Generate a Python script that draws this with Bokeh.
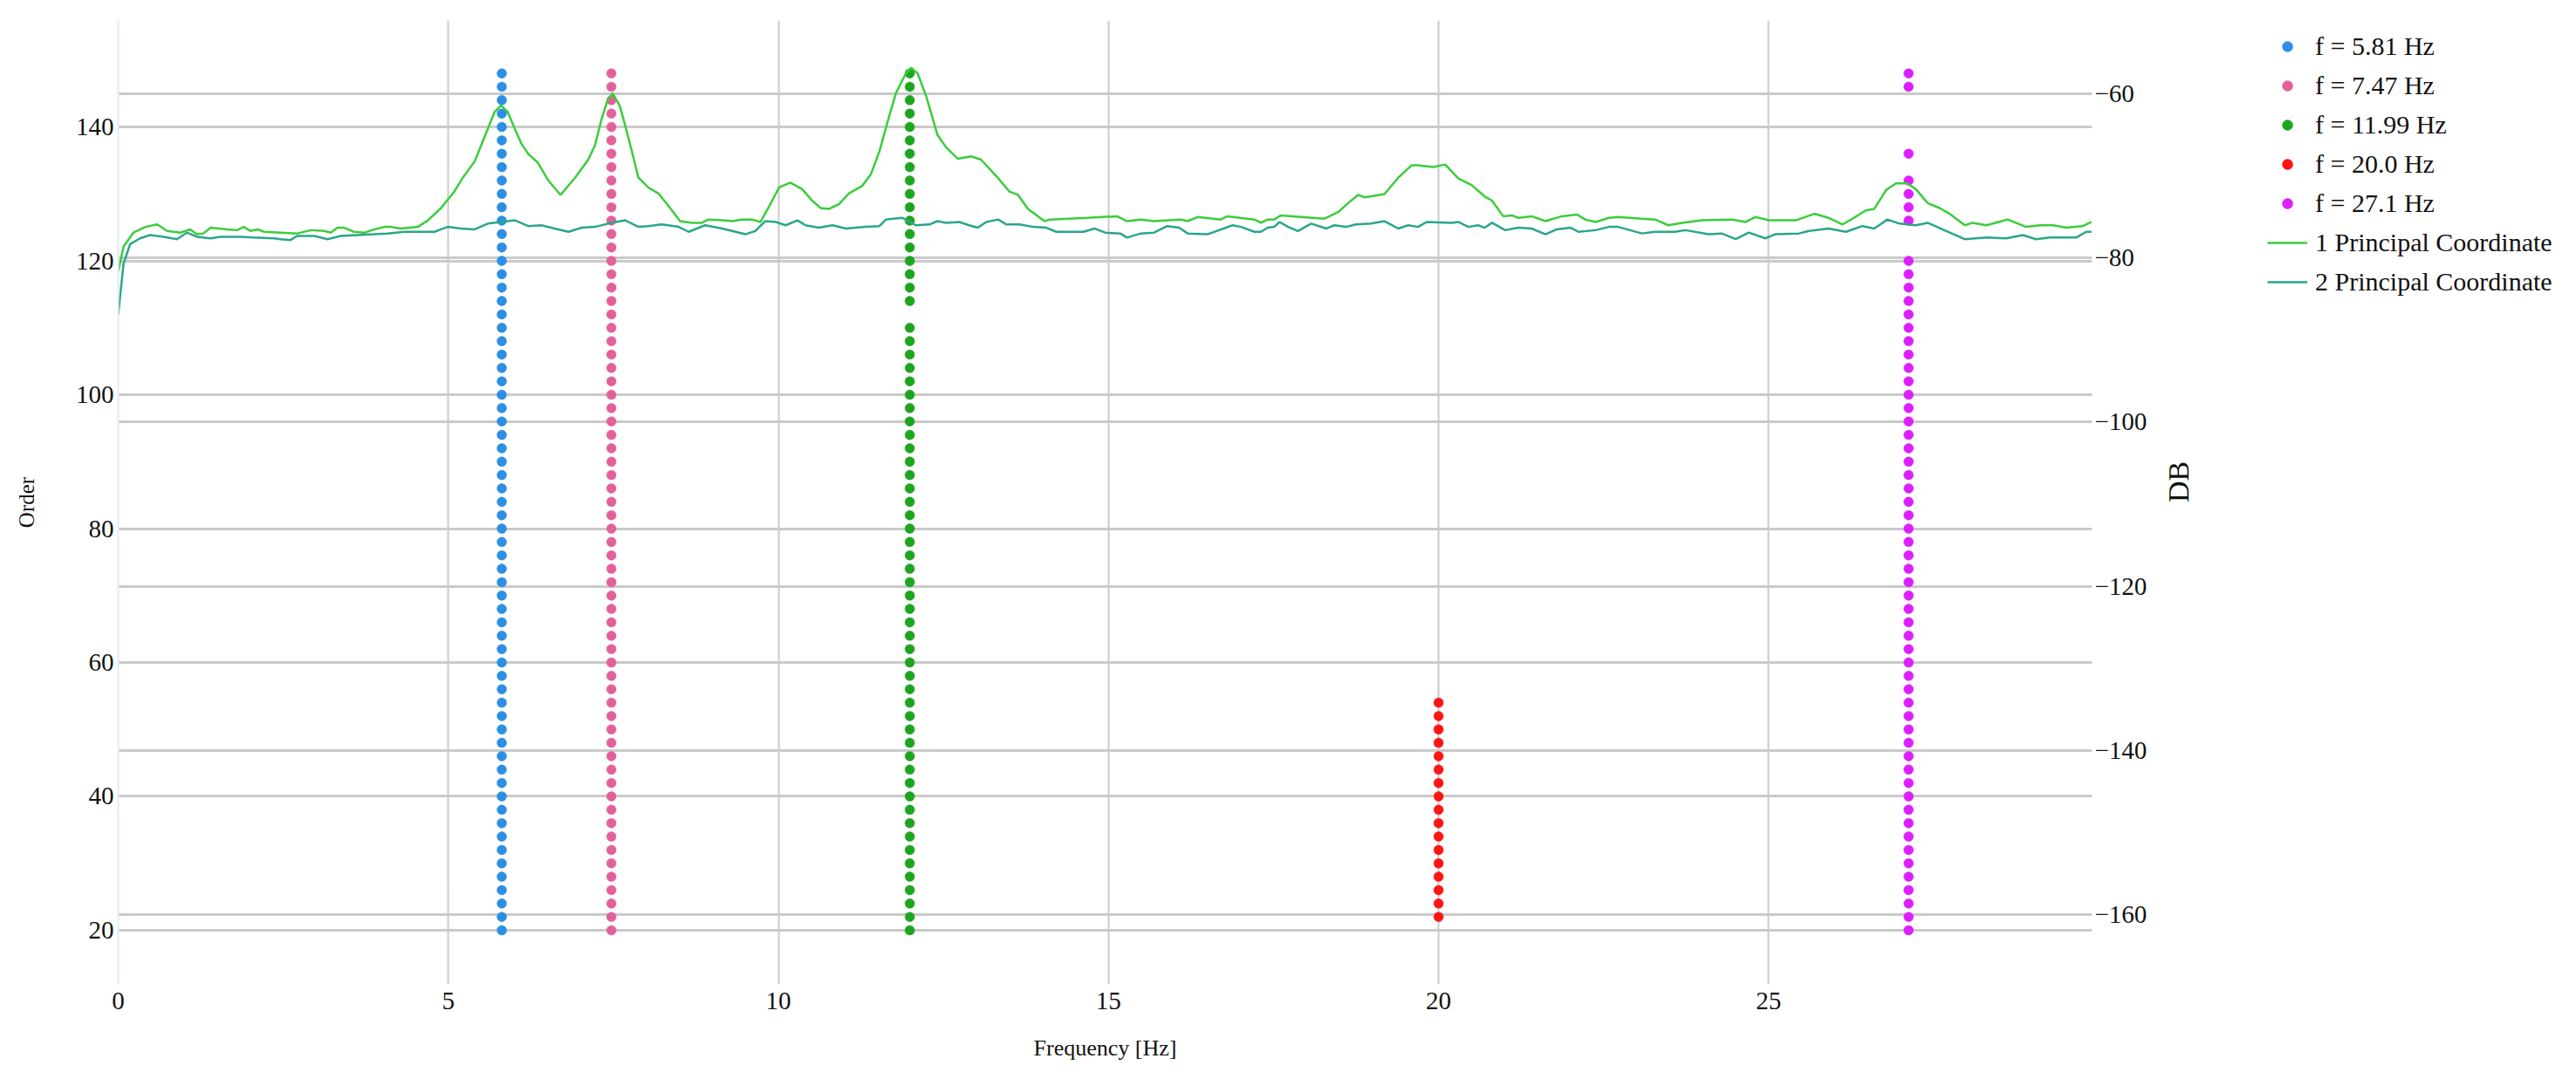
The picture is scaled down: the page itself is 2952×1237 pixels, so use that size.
import math
from bokeh.plotting import figure
from bokeh.layouts import row
from bokeh.models import (Range1d, LinearAxis, FixedTicker, Grid, Legend, LegendItem,
                          CustomJSTickFormatter)
from bokeh.embed import file_html
from bokeh.resources import INLINE

# ---------------- data ----------------
point_labels = ["f = 5.81 Hz", "f = 7.47 Hz", "f = 11.99 Hz", "f = 20.0 Hz", "f = 27.1 Hz"]
point_freqs = [5.81, 7.47, 11.99, 20.0, 27.12]
point_colors = ["#2c8fe3", "#e2619b", "#1ea51e", "#ff1414", "#dd1ffe"]

orders_581 = [20, 22, 24, 26, 28, 30, 32, 34, 36, 38, 40, 42, 44, 46, 48, 50, 52, 54, 56, 58,
              60, 62, 64, 66, 68, 70, 72, 74, 76, 78, 80, 82, 84, 86, 88, 90, 92, 94, 96, 98,
              100, 102, 104, 106, 108, 110, 112, 114, 116, 118, 120, 122, 124, 126, 128, 130,
              132, 134, 136, 138, 140, 142, 144, 146, 148]
orders_747 = [20, 22, 24, 26, 28, 30, 32, 34, 36, 38, 40, 42, 44, 46, 48, 50, 52, 54, 56, 58,
              60, 62, 64, 66, 68, 70, 72, 74, 76, 78, 80, 82, 84, 86, 88, 90, 92, 94, 96, 98,
              100, 102, 104, 106, 108, 110, 112, 114, 116, 118, 120, 122, 124, 126, 128, 130,
              132, 134, 136, 138, 140, 142, 144, 146, 148]
orders_1199 = [20, 22, 24, 26, 28, 30, 32, 34, 36, 38, 40, 42, 44, 46, 48, 50, 52, 54, 56, 58,
               60, 62, 64, 66, 68, 70, 72, 74, 76, 78, 80, 82, 84, 86, 88, 90, 92, 94, 96, 98,
               100, 102, 104, 106, 108, 110, 114, 116, 118, 120, 122, 124, 126, 128, 130,
               132, 134, 136, 138, 140, 142, 144, 146, 148]
orders_2000 = [22, 24, 26, 28, 30, 32, 34, 36, 38, 40, 42, 44, 46, 48, 50, 52, 54]
orders_2710 = [20, 22, 24, 26, 28, 30, 32, 34, 36, 38, 40, 42, 44, 46, 48, 50, 52, 54, 56, 58,
               60, 62, 64, 66, 68, 70, 72, 74, 76, 78, 80, 82, 84, 86, 88, 90, 92, 94, 96, 98,
               100, 102, 104, 106, 108, 110, 112, 114, 116, 118, 120, 126, 128, 130, 132,
               136, 146, 148]
point_orders = [orders_581, orders_747, orders_1199, orders_2000, orders_2710]

pc1_freq = [0.00, 0.08, 0.23, 0.41, 0.59, 0.74, 0.94, 1.09, 1.19, 1.29, 1.40, 1.65, 1.80, 1.90,
            2.00, 2.11, 2.21, 2.46, 2.71, 2.92, 3.12, 3.22, 3.32, 3.42, 3.57, 3.73, 3.88, 4.03,
            4.13, 4.28, 4.54, 4.69, 4.89, 5.09, 5.22, 5.40, 5.55, 5.70, 5.80, 5.90, 6.01, 6.11,
            6.21, 6.36, 6.51, 6.70, 6.92, 7.12, 7.22, 7.32, 7.41, 7.49, 7.60, 7.73, 7.88, 8.03,
            8.18, 8.34, 8.51, 8.69, 8.84, 8.94, 9.15, 9.30, 9.45, 9.60, 9.73, 9.86, 10.01, 10.18,
            10.36, 10.51, 10.64, 10.77, 10.92, 11.07, 11.27, 11.40, 11.53, 11.65, 11.78, 11.93,
            12.01, 12.11, 12.24, 12.41, 12.54, 12.72, 12.92, 13.07, 13.30, 13.50, 13.63, 13.78,
            14.03, 14.11, 14.67, 15.13, 15.28, 15.49, 15.69, 16.09, 16.20, 16.35, 16.70, 16.80,
            17.21, 17.31, 17.41, 17.51, 17.61, 18.27, 18.48, 18.63, 18.78, 18.88, 19.18, 19.39,
            19.59, 19.69, 19.92, 20.10, 20.30, 20.50, 20.70, 20.81, 20.98, 21.11, 21.21, 21.41,
            21.62, 21.87, 22.10, 22.22, 22.38, 22.58, 22.72, 23.08, 23.28, 23.48, 23.69, 23.99,
            24.45, 24.65, 24.80, 25.00, 25.41, 25.69, 25.91, 26.12, 26.27, 26.47, 26.60, 26.78,
            26.93, 27.10, 27.23, 27.41, 27.59, 27.74, 27.97, 28.09, 28.30, 28.62, 28.90, 29.11,
            29.31, 29.51, 29.76, 29.89]
pc1_db = [-81.6, -78.6, -76.9, -76.2, -75.9, -76.7, -76.9, -76.5, -77.1, -77.0, -76.3, -76.5,
          -76.6, -76.2, -76.7, -76.5, -76.8, -76.9, -77.0, -76.6, -76.7, -76.9, -76.3, -76.3,
          -76.8, -76.9, -76.5, -76.2, -76.2, -76.4, -76.2, -75.4, -73.9, -71.9, -70.2, -68.2,
          -65.2, -62.2, -61.4, -62.2, -64.3, -66.1, -67.3, -68.4, -70.5, -72.3, -70.2, -68.0,
          -66.3, -63.1, -60.8, -59.9, -61.5, -65.4, -70.2, -71.4, -72.1, -73.7, -75.5, -75.7,
          -75.7, -75.3, -75.4, -75.5, -75.3, -75.3, -75.6, -73.7, -71.4, -70.8, -71.6, -73.0,
          -73.9, -74.0, -73.4, -72.1, -71.2, -69.8, -67.0, -63.5, -59.9, -57.5, -56.8, -57.5,
          -60.3, -65.0, -66.5, -67.9, -67.6, -68.0, -70.0, -71.9, -72.3, -74.0, -75.5, -75.3,
          -75.1, -74.9, -75.5, -75.3, -75.5, -75.3, -75.5, -75.0, -75.3, -74.9, -75.3, -75.7,
          -75.3, -75.3, -74.8, -75.2, -74.4, -73.3, -72.3, -72.6, -72.2, -70.2, -68.7, -68.7,
          -68.9, -68.6, -70.3, -71.1, -72.5, -73.0, -74.9, -74.8, -75.1, -74.9, -75.5, -74.9,
          -74.7, -75.3, -75.6, -75.1, -75.0, -75.2, -75.3, -76.0, -75.7, -75.4, -75.3, -75.6,
          -75.0, -75.4, -75.4, -74.6, -75.1, -75.9, -75.2, -74.2, -74.0, -71.7, -70.9, -70.9,
          -71.6, -73.3, -73.9, -74.6, -76.0, -75.7, -76.0, -75.3, -76.2, -76.0, -76.0, -76.3,
          -76.1, -75.6]

pc2_freq = [0.00, 0.08, 0.18, 0.33, 0.48, 0.69, 0.89, 1.04, 1.19, 1.40, 1.55, 1.85, 2.05, 2.36,
            2.46, 2.61, 2.71, 2.97, 3.17, 3.37, 3.62, 3.88, 4.08, 4.33, 4.79, 4.99, 5.19, 5.40,
            5.60, 5.80, 6.01, 6.21, 6.41, 6.61, 6.82, 7.02, 7.22, 7.42, 7.68, 7.88, 8.03, 8.23,
            8.49, 8.64, 8.89, 9.15, 9.50, 9.65, 9.80, 9.96, 10.11, 10.29, 10.41, 10.61, 10.82,
            11.02, 11.32, 11.53, 11.63, 11.88, 12.08, 12.29, 12.41, 12.54, 12.74, 12.89, 13.02,
            13.15, 13.33, 13.45, 13.65, 13.86, 14.06, 14.21, 14.62, 14.79, 14.95, 15.18, 15.28,
            15.49, 15.69, 15.89, 16.07, 16.20, 16.50, 16.88, 17.01, 17.21, 17.31, 17.41, 17.51,
            17.59, 17.72, 17.87, 18.07, 18.30, 18.42, 18.60, 18.75, 18.98, 19.18, 19.39, 19.54,
            19.69, 19.82, 20.20, 20.30, 20.45, 20.60, 20.70, 20.81, 21.01, 21.21, 21.41, 21.62,
            21.79, 22.00, 22.12, 22.38, 22.58, 22.72, 23.08, 23.28, 23.58, 23.74, 24.09, 24.29,
            24.50, 24.70, 24.95, 25.10, 25.46, 25.61, 25.91, 26.17, 26.42, 26.60, 26.80, 26.98,
            27.23, 27.41, 27.69, 27.97, 28.30, 28.60, 28.85, 29.05, 29.26, 29.66, 29.81, 29.89]
pc2_db = [-86.9, -80.7, -78.3, -77.6, -77.2, -77.4, -77.7, -76.9, -77.4, -77.6, -77.4, -77.4,
          -77.5, -77.6, -77.7, -77.8, -77.3, -77.3, -77.7, -77.3, -77.2, -77.1, -77.0, -76.8,
          -76.8, -76.2, -76.4, -76.5, -75.8, -75.6, -75.4, -76.1, -76.0, -76.4, -76.8, -76.3,
          -76.2, -75.8, -75.4, -76.2, -76.1, -75.9, -76.2, -76.8, -76.0, -76.4, -77.1, -76.7,
          -75.5, -75.6, -76.0, -75.4, -76.0, -76.3, -76.0, -76.4, -76.2, -76.1, -75.3, -75.1,
          -76.0, -75.9, -75.5, -75.7, -75.6, -76.0, -76.3, -75.6, -75.3, -75.9, -75.9, -76.2,
          -76.3, -76.8, -76.8, -76.4, -76.9, -77.0, -77.5, -77.0, -76.9, -76.1, -76.3, -77.0,
          -77.1, -76.0, -76.2, -76.8, -76.8, -76.3, -76.2, -75.6, -76.2, -76.7, -75.8, -76.4,
          -76.0, -76.2, -75.9, -75.8, -75.5, -76.4, -76.0, -76.2, -75.6, -75.7, -75.6, -76.2,
          -76.0, -76.3, -75.7, -76.6, -76.3, -76.4, -77.1, -76.5, -76.3, -76.8, -76.6, -76.2,
          -76.2, -77.0, -76.8, -76.8, -76.6, -77.1, -77.0, -77.7, -76.9, -77.6, -77.1, -77.0,
          -76.7, -76.4, -76.8, -76.1, -76.4, -75.3, -75.8, -76.0, -75.7, -76.7, -77.7, -77.5,
          -77.6, -77.2, -77.7, -77.5, -77.5, -76.8, -76.8]

line_labels = ["1 Principal Coordinate", "2 Principal Coordinate"]
line_colors = ["#3acd3a", "#2aa68a"]

x_ticks = [0, 5, 10, 15, 20, 25]
order_ticks = [20, 40, 60, 80, 100, 120, 140]
db_ticks = [-60, -80, -100, -120, -140, -160]

# ---------------- main figure ----------------
FONT = "Liberation Serif"
TXT = "#111111"
GRID = "#cacaca"

p = figure(width=2560, height=1229, output_backend="svg", toolbar_location=None,
           x_range=Range1d(0, 29.9), y_range=Range1d(11.92, 155.9),
           min_border_left=135, min_border_right=163, min_border_top=23,
           min_border_bottom=101)
p.extra_y_ranges = {"db": Range1d(-168.54, -51.04)}
p.outline_line_color = None
p.background_fill_color = "white"
p.border_fill_color = "white"

# x axis
p.xaxis.ticker = FixedTicker(ticks=x_ticks)
p.xaxis.axis_label = "Frequency [Hz]"
p.xaxis.axis_line_color = None
p.xaxis.major_tick_line_color = None
p.xaxis.minor_tick_line_color = None
p.xaxis.major_tick_out = 0
p.xaxis.major_label_standoff = 9
p.xaxis.axis_label_standoff = 27
p.xaxis.major_label_text_font = FONT
p.xaxis.major_label_text_font_size = "29px"
p.xaxis.major_label_text_color = TXT
p.xaxis.axis_label_text_font = FONT
p.xaxis.axis_label_text_font_size = "26px"
p.xaxis.axis_label_text_font_style = "normal"
p.xaxis.axis_label_text_color = TXT

# left axis
p.yaxis.ticker = FixedTicker(ticks=order_ticks)
p.yaxis.axis_label = "Order"
p.yaxis.axis_line_color = "#e6e9f5"
p.yaxis.axis_line_width = 2
p.yaxis.major_tick_line_color = None
p.yaxis.minor_tick_line_color = None
p.yaxis.major_tick_out = 0
p.yaxis.major_label_standoff = 5
p.yaxis.axis_label_standoff = 40
p.yaxis.major_label_text_font = FONT
p.yaxis.major_label_text_font_size = "29px"
p.yaxis.major_label_text_color = TXT
p.yaxis.axis_label_text_font = FONT
p.yaxis.axis_label_text_font_size = "25px"
p.yaxis.axis_label_text_font_style = "normal"
p.yaxis.axis_label_text_color = TXT

# right axis
ax_r = LinearAxis(y_range_name="db", ticker=FixedTicker(ticks=db_ticks), axis_label="DB",
                  formatter=CustomJSTickFormatter(code="return (tick < 0 ? '\u2212' : '') + Math.abs(tick);"))
ax_r.axis_line_color = None
ax_r.major_tick_line_color = None
ax_r.minor_tick_line_color = None
ax_r.major_tick_out = 0
ax_r.major_label_standoff = 3
ax_r.axis_label_standoff = 33
ax_r.axis_label_orientation = math.pi / 2
ax_r.major_label_text_font = FONT
ax_r.major_label_text_font_size = "29px"
ax_r.major_label_text_color = TXT
ax_r.axis_label_text_font = FONT
ax_r.axis_label_text_font_size = "34px"
ax_r.axis_label_text_font_style = "normal"
ax_r.axis_label_text_color = TXT
p.add_layout(ax_r, "right")

# grids
p.xgrid.ticker = FixedTicker(ticks=x_ticks)
p.xgrid.grid_line_color = GRID
p.xgrid.grid_line_width = 2
p.ygrid.ticker = FixedTicker(ticks=order_ticks)
p.ygrid.grid_line_color = GRID
p.ygrid.grid_line_width = 3
p.add_layout(Grid(dimension=1, y_range_name="db", ticker=FixedTicker(ticks=db_ticks),
                  grid_line_color=GRID, grid_line_width=3))

# ---------------- legend panel (a figure that only carries the legend) ----------------
lg = figure(width=384, height=1229, output_backend="svg", toolbar_location=None,
            x_range=Range1d(-3, -2), y_range=Range1d(-3, -2),
            x_axis_type=None, y_axis_type=None,
            min_border_left=25, min_border_right=0, min_border_top=23, min_border_bottom=0)
lg.outline_line_color = None
lg.grid.visible = False
lg.background_fill_color = "white"
lg.border_fill_color = "white"

items = []
for lab, f, col, ords in zip(point_labels, point_freqs, point_colors, point_orders):
    xs = [f] * len(ords)
    p.scatter(x=xs, y=ords, size=11, marker="circle",
              fill_color=col, line_color=col, line_width=0.5)
    # same series in the legend panel, outside its (empty) ranges: only its legend swatch shows
    r = lg.scatter(x=xs, y=ords, size=11, marker="circle",
                   fill_color=col, line_color=col, line_width=0.5)
    items.append(LegendItem(label=lab, renderers=[r]))

for lab, col, xs, ys in zip(line_labels, line_colors, [pc1_freq, pc2_freq], [pc1_db, pc2_db]):
    p.line(x=xs, y=ys, line_color=col, line_width=2.5, y_range_name="db")
    r = lg.line(x=xs, y=ys, line_color=col, line_width=2.5)
    items.append(LegendItem(label=lab, renderers=[r]))

legend = Legend(items=items, location="top_left", padding=12, margin=13, spacing=11,
                glyph_width=46, glyph_height=30, label_height=30, label_standoff=9,
                label_text_font=FONT, label_text_font_size="30px", label_text_color=TXT,
                border_line_color=None, background_fill_alpha=0)
lg.add_layout(legend)

layout = row(p, lg)
open("out.html", "w").write(file_html(layout, INLINE))
